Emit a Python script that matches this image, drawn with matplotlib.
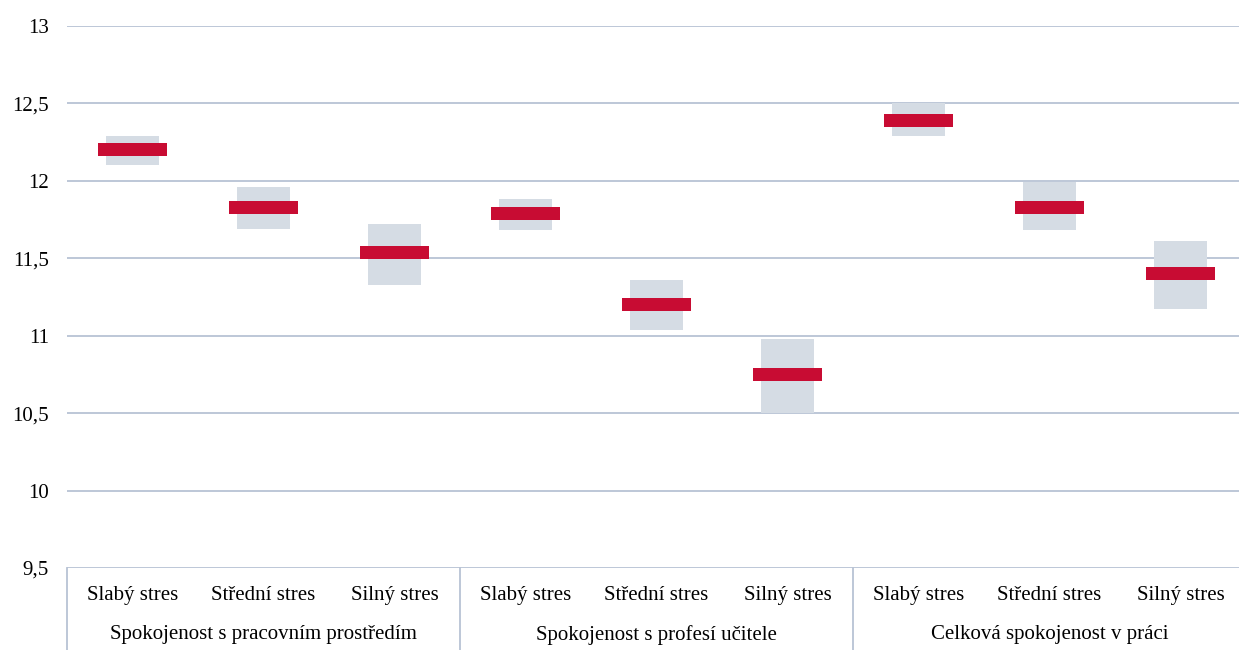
import numpy as np
import matplotlib.pyplot as plt
from matplotlib.transforms import blended_transform_factory

plt.rcParams['font.family'] = ['Liberation Serif', 'DejaVu Serif']

groups = ['Spokojenost s pracovním prostředím', 'Spokojenost s profesí učitele', 'Celková spokojenost v práci']
levels = ['Slabý stres', 'Střední stres', 'Silný stres']

means = [12.20, 11.83, 11.54, 11.79, 11.20, 10.75, 12.39, 11.83, 11.40]
lows = [12.10, 11.69, 11.33, 11.68, 11.04, 10.50, 12.29, 11.68, 11.17]
highs = [12.29, 11.96, 11.72, 11.88, 11.36, 10.98, 12.50, 11.99, 11.61]

grid_color = '#B8C3D4'
box_color = '#D5DCE4'
red = '#C80C33'

fig = plt.figure(figsize=(12.39, 6.5), dpi=100)
# the plot area runs past the right edge of the picture
ax = fig.add_axes([67 / 1239, 1 - 568 / 650, (1246 - 67) / 1239, (568 - 26) / 650])

x = np.arange(len(means))
lows = np.array(lows)
highs = np.array(highs)
means = np.array(means)

ax.bar(x, highs - lows, bottom=lows, width=0.41, color=box_color, zorder=2)
ax.bar(x, 0.085, bottom=means - 0.0425, width=0.52, color=red, zorder=3)

ax.set_xlim(-0.5, len(means) - 0.5)
ax.set_ylim(9.5, 13)
yt = np.arange(9.5, 13.01, 0.5)
for v in yt:
    ax.axhline(v, color=grid_color, lw=1.3, zorder=1)
ax.set_yticks(yt)
ax.set_yticklabels([('%g' % v).replace('.', ',') for v in yt], fontsize=15)
ax.tick_params(axis='y', length=0, pad=13)
ax.set_xticks([])
for s in ax.spines.values():
    s.set_visible(False)

trans = blended_transform_factory(ax.transData, ax.transAxes)
for i, xi in enumerate(x):
    ax.text(xi, -0.05, levels[i % 3], transform=trans, ha='center', va='center', fontsize=15)
for g, name in enumerate(groups):
    ax.text(g * 3 + 1, -0.123, name, transform=trans, ha='center', va='center', fontsize=15)
for xs in [-0.5, 2.5, 5.5]:
    ax.plot([xs, xs], [0, -0.16], transform=trans, color=grid_color, lw=1.3, clip_on=False)

fig.savefig('out.png', dpi=100)
